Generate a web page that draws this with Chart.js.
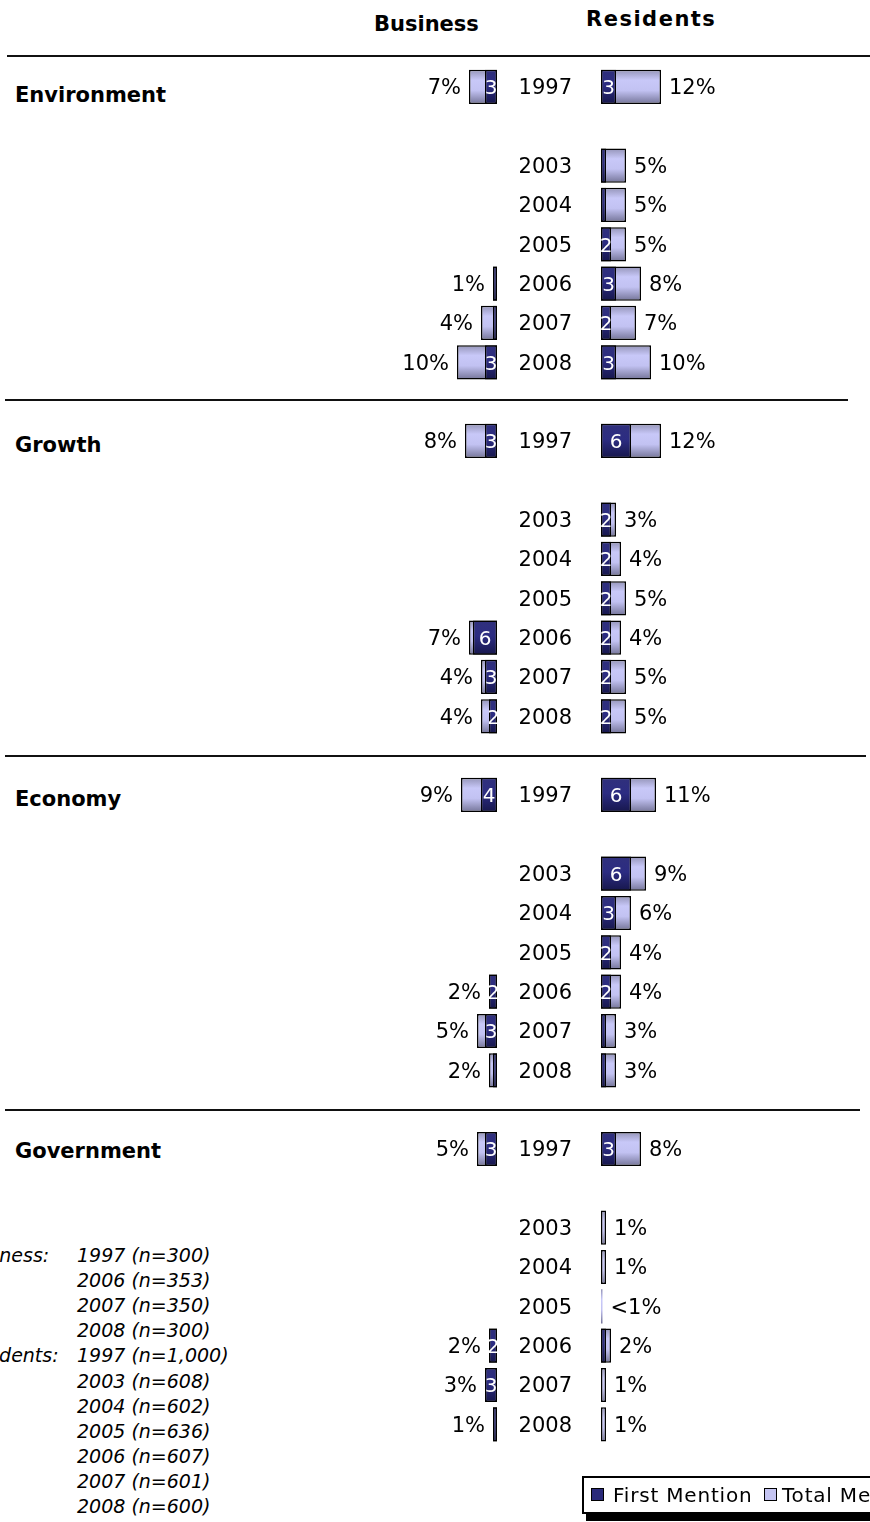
<!DOCTYPE html>
<html>
<head>
<meta charset="utf-8">
<script src="https://cdn.jsdelivr.net/npm/chart.js@4.4.0/dist/chart.umd.min.js"></script>
<style>
  body { margin: 0; background: #fff; width: 870px; height: 1522px; position: relative; overflow: hidden; font-family: "DejaVu Sans", sans-serif; color: #000; }
  .txt { position: absolute; white-space: nowrap; line-height: 1; transform: translateY(-50%); }
  .head { font-weight: bold; font-size: 21px; }
  .rule { position: absolute; left: 5px; height: 2px; background: #111; }
  .note { position: absolute; white-space: nowrap; line-height: 1; font-style: italic; font-size: 19px; transform: translateY(-50%); }
  canvas { position: absolute; top: 0; }
  #legend { position: absolute; left: 582px; top: 1476px; width: 320px; height: 34px; border: 2px solid #000; background: #fff; box-shadow: 4px 7px 0 #000; font-size: 20px; letter-spacing: 0.8px; }
  #legend span { position: absolute; top: 50%; transform: translateY(-50%); line-height: 1; white-space: nowrap; }
  #legend i { position: absolute; top: 10px; width: 11px; height: 11px; border: 1px solid #000; }
</style>
</head>
<body>
<div class="txt head" style="left:374px; top:24px">Business</div>
<div class="txt head" style="left:586px; top:19px; letter-spacing:1.5px">Residents</div>

<div class="rule" style="top:55px; left:7px; width:863px"></div>
<div class="rule" style="top:399px; width:843px"></div>
<div class="rule" style="top:755px; width:861px"></div>
<div class="rule" style="top:1109px; width:855px"></div>

<div id="topics"></div>
<div id="notes"></div>

<canvas id="bizChart" width="497" height="1522" style="left:0; width:497px; height:1522px"></canvas>
<canvas id="resChart" width="371" height="1522" style="left:480px; width:371px; height:1522px"></canvas>

<div id="legend">
  <i style="left:7px; background:#2a2a7a"></i><span style="left:29px">First Mention</span>
  <i style="left:180px; background:#c4c4f2"></i><span style="left:198px">Total Mention</span>
</div>

<script>
// survey topics and the years each block shows
const topics = ['Environment', 'Growth', 'Economy', 'Government'];
const surveyYears = ['1997', '2003', '2004', '2005', '2006', '2007', '2008'];

// Business survey, % (no business survey 2003-2005)
const bizTotal = [
  [7, null, null, null, 1, 4, 10],
  [8, null, null, null, 7, 4, 4],
  [9, null, null, null, 2, 5, 2],
  [5, null, null, null, 2, 3, 1]
];
const bizFirst = [
  [3, null, null, null, 1, 1, 3],
  [3, null, null, null, 6, 3, 2],
  [4, null, null, null, 2, 3, 1],
  [3, null, null, null, 2, 3, 1]
];

// Residents survey, %
const resTotal = [
  [12, 5, 5, 5, 8, 7, 10],
  [12, 3, 4, 5, 4, 5, 5],
  [11, 9, 6, 4, 4, 3, 3],
  [8, 1, 1, 0.3, 2, 1, 1]
];
const resFirst = [
  [3, 1, 1, 2, 3, 2, 3],
  [6, 2, 2, 2, 2, 2, 2],
  [6, 6, 3, 2, 2, 1, 1],
  [3, null, null, null, 1, null, null]
];

// sample sizes
const bizSamples = ['1997 (n=300)', '2006 (n=353)', '2007 (n=350)', '2008 (n=300)'];
const resSamples = ['1997 (n=1,000)', '2003 (n=608)', '2004 (n=602)', '2005 (n=636)', '2006 (n=607)', '2007 (n=601)', '2008 (n=600)'];

// each block: 1997, a gap, 2003..2008, then a gap before the next topic
function flatten(rows, fill) {
  const out = [];
  rows.forEach((r, t) => {
    out.push(r[0], fill, ...r.slice(1));
    if (t < rows.length - 1) out.push(fill);
  });
  return out;
}
const rowLabels = flatten(topics.map(() => surveyYears), '');

const barPct = 0.87;
const totalStops = [[0, '#9494b8'], [0.3, '#c8c8f8'], [0.6, '#c2c2f2'], [1, '#747498']];
const firstStops = [[0, '#30307c'], [0.45, '#2c2c82'], [1, '#17174c']];

function barFill(stops) {
  return ctx => {
    const chart = ctx.chart, area = chart.chartArea;
    if (!area || ctx.type !== 'data') return stops[1][1];
    const cy = chart.scales.y.getPixelForValue(ctx.dataIndex);
    const half = (area.bottom - area.top) / rowLabels.length * barPct / 2;
    const g = chart.ctx.createLinearGradient(0, cy - half, 0, cy + half);
    stops.forEach(([o, c]) => g.addColorStop(o, c));
    return g;
  };
}

// % labels beside the total bars, first-mention counts inside the dark bars
const valueLabels = {
  id: 'valueLabels',
  afterDatasetsDraw(chart, args, opts) {
    const c = chart.ctx;
    const first = chart.data.datasets[0].data, total = chart.data.datasets[1].data;
    c.save();
    c.textBaseline = 'middle';
    c.font = '21px "DejaVu Sans"';
    c.fillStyle = '#000';
    c.textAlign = opts.side > 0 ? 'left' : 'right';
    chart.getDatasetMeta(1).data.forEach((bar, i) => {
      const v = total[i];
      if (v == null) return;
      c.fillText(v < 1 ? '<1%' : v + '%', bar.x + opts.side * 8, bar.y + 2);
    });
    c.font = '20px "DejaVu Sans"';
    c.fillStyle = '#fff';
    c.textAlign = 'center';
    chart.getDatasetMeta(0).data.forEach((bar, i) => {
      const v = first[i];
      if (v == null || v < 2) return;
      const l = Math.min(bar.x, bar.base), r = Math.max(bar.x, bar.base);
      c.save();
      c.beginPath();
      c.rect(l, bar.y - bar.height / 2, r - l, bar.height);
      c.clip();
      c.fillText(String(v), (l + r) / 2, bar.y + 2);
      c.restore();
    });
    c.restore();
  }
};

function datasets(firstVals, totalVals) {
  const common = { borderColor: '#000', borderWidth: 1.5, borderSkipped: false, grouped: false,
                   barPercentage: barPct, categoryPercentage: 1 };
  return [
    { label: 'First Mention', data: flatten(firstVals, null), backgroundColor: barFill(firstStops), order: 0, ...common },
    { label: 'Total Mention', data: flatten(totalVals, null), backgroundColor: barFill(totalStops), order: 1, ...common,
      borderWidth: ctx => (ctx.raw != null && ctx.raw < 1 ? 0 : 1.5) }
  ];
}

const padTop = 67.3, padBottom = 78;

new Chart(document.getElementById('bizChart'), {
  type: 'bar',
  data: { labels: rowLabels, datasets: datasets(bizFirst, bizTotal) },
  options: {
    indexAxis: 'y', responsive: false, animation: false,
    layout: { padding: { top: padTop, bottom: padBottom, left: 97, right: 0 } },
    scales: {
      x: { min: 0, max: 100, reverse: true, display: false },
      y: { display: false, offset: true }
    },
    plugins: { legend: { display: false }, tooltip: { enabled: false }, valueLabels: { side: -1 } }
  },
  plugins: [valueLabels]
});

new Chart(document.getElementById('resChart'), {
  type: 'bar',
  data: { labels: rowLabels, datasets: datasets(resFirst, resTotal) },
  options: {
    indexAxis: 'y', responsive: false, animation: false,
    layout: { padding: { top: padTop, bottom: padBottom, left: 0, right: 0 } },
    scales: {
      x: { min: 0, max: 50, display: false },
      y: {
        offset: true,
        grid: { display: false, drawTicks: false },
        border: { display: false },
        ticks: { autoSkip: false, padding: 29, labelOffset: 2, color: '#000', font: { family: 'DejaVu Sans', size: 21 } },
        afterFit: s => { s.width = 121; }
      }
    },
    plugins: { legend: { display: false }, tooltip: { enabled: false }, valueLabels: { side: 1 } }
  },
  plugins: [valueLabels]
});

// topic names down the left side
const topicY = [95, 445, 799, 1151];
document.getElementById('topics').innerHTML = topics
  .map((t, i) => `<div class="txt head" style="left:15px; top:${topicY[i]}px">${t}</div>`).join('');

// sample-size footnote
const noteTop = 1255, noteStep = 25.1;
const notes = [];
bizSamples.forEach((s, i) => notes.push([i === 0 ? 'Business:' : '', s]));
resSamples.forEach((s, i) => notes.push([i === 0 ? 'Residents:' : '', s]));
document.getElementById('notes').innerHTML = notes.map(([k, s], i) => {
  const y = noteTop + i * noteStep;
  return (k ? `<div class="note" style="left:-41px; top:${y}px">${k}</div>` : '') +
         `<div class="note" style="left:77px; top:${y}px">${s}</div>`;
}).join('');
</script>
</body>
</html>
